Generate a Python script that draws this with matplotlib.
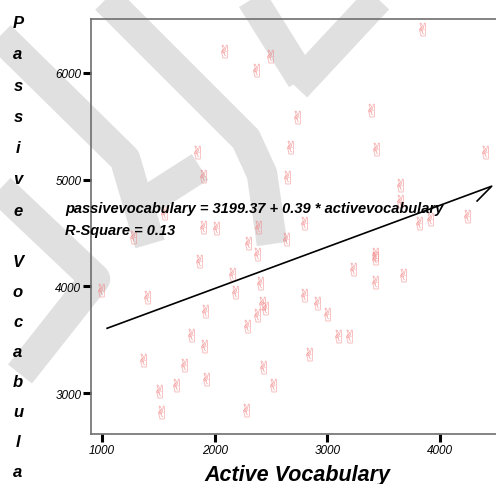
import matplotlib
matplotlib.use("Agg")
import matplotlib.pyplot as plt
from matplotlib.lines import Line2D

# data ------------------
active = [2084, 2493, 2369, 3844, 2733, 2671, 3391, 3436, 4404, 1844,
          1898, 2644, 3649, 3649, 1551, 1898, 2013, 2387, 2796, 3818,
          3916, 4244, 1276, 2298, 2636, 1862, 2378, 2156, 3231, 2404,
          3427, 3427, 3676, 3427, 991, 1400, 2182, 2796, 2911, 3000,
          3098, 3196, 2840, 2422, 2449, 2378, 2289, 1791, 1916, 1907,
          1364, 1729, 1924, 1658, 1507, 1524, 2280, 2520, 2431]
passive = [6205, 6158, 6027, 6411, 5587, 5306, 5652, 5287, 5259, 5259,
           5034, 5024, 4949, 4799, 4687, 4556, 4546, 4556, 4593, 4593,
           4631, 4659, 4462, 4406, 4443, 4237, 4303, 4115, 4162, 4031,
           4300, 4265, 4106, 4040, 3965, 3900, 3947, 3918, 3843, 3740,
           3534, 3534, 3366, 3843, 3797, 3731, 3628, 3544, 3768, 3440,
           3309, 3262, 3131, 3075, 3019, 2822, 2841, 3075, 3244]

# fitted line (last point is the little hook at the end of the line)
fit_x = [1045, 4460, 4330]
fit_y = [3607, 4939, 4800]

x_ticks = [1000, 2000, 3000, 4000]
y_ticks = [3000, 4000, 5000, 6000]

equation = "passivevocabulary = 3199.37 + 0.39 * activevocabulary"
r_square = "R-Square = 0.13"
x_title = "Active Vocabulary"
y_title = "Passive Vocabulary"

# figure ----------------
W, H = 496, 485
fig = plt.figure(figsize=(W / 100, H / 100), dpi=100)
fig.patch.set_facecolor("white")


def fx(px):
    return px / W


def fy(py):
    return 1 - py / H


# watermark bands (pixel paths, drawn behind everything)
bands = [
    [(106, 0), (246, 140), (262, 175), (272, 245)],
    [(252, 0), (302, 80)],
    [(378, 0), (296, 88)],
    [(0, 37), (125, 160), (150, 245)],
    [(150, 200), (200, 168)],
    [(0, 190), (95, 280), (20, 375)],
]
for path in bands:
    xs = [fx(p[0]) for p in path]
    ys = [fy(p[1]) for p in path]
    fig.add_artist(Line2D(xs, ys, transform=fig.transFigure, color="#e0e0e0",
                          linewidth=22, solid_capstyle="butt",
                          solid_joinstyle="round", zorder=0))

ax = fig.add_axes([fx(91), fy(435), (503 - 91) / W, (435 - 20) / H])
ax.set_facecolor("none")
ax.set_zorder(1)

ax.scatter(active, passive, marker="$\u270C$", s=95, color="#f27a7a",
           linewidths=0, alpha=0.85, zorder=3)
ax.plot(fit_x, fit_y, color="black", linewidth=1.2, zorder=4)

ax.set_xlim(902, 4560)
ax.set_ylim(2616, 6506)
ax.set_xticks(x_ticks)
ax.set_yticks(y_ticks)

for side in ["left", "top", "bottom", "right"]:
    ax.spines[side].set_color("#6e6e6e")
    ax.spines[side].set_linewidth(1.2)

ax.tick_params(direction="out", length=5.5, width=2.2, color="black", pad=1.5)
for lbl in ax.get_xticklabels() + ax.get_yticklabels():
    lbl.set_fontfamily("Liberation Sans")
    lbl.set_fontstyle("italic")
    lbl.set_fontsize(8.5)

ax.set_xlabel(x_title, fontfamily="Liberation Sans", fontsize=15.5,
              fontweight="bold", fontstyle="italic", labelpad=6)

ax.text(fx(65), fy(213), equation, transform=fig.transFigure,
        fontfamily="Liberation Sans", fontsize=10.5, fontweight="bold",
        fontstyle="italic", va="baseline", ha="left", zorder=5)
ax.text(fx(65), fy(235), r_square, transform=fig.transFigure,
        fontfamily="Liberation Sans", fontsize=10.5, fontweight="bold",
        fontstyle="italic", va="baseline", ha="left", zorder=5)

# stacked y title, one letter per line
words = y_title.split(" ")
starts = [28, 267]
steps = [31.3, 30.0]
for word, start, step in zip(words, starts, steps):
    for i, ch in enumerate(word):
        fig.text(fx(18), fy(start + i * step), ch, fontfamily="Liberation Sans",
                 fontsize=12, fontweight="bold", fontstyle="italic",
                 ha="center", va="baseline")

fig.savefig("out.png", dpi=100)
